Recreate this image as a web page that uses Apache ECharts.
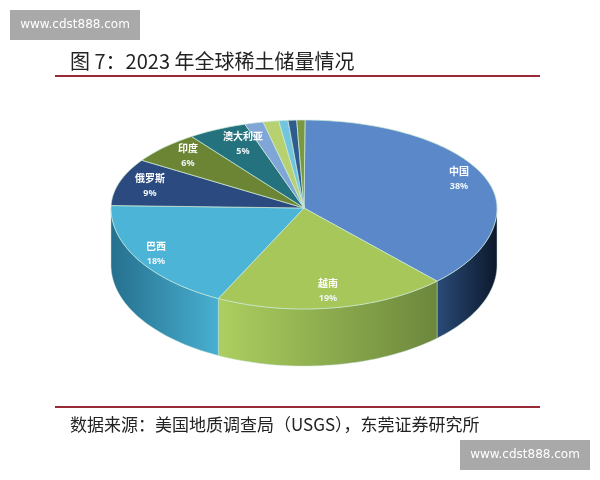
<!DOCTYPE html>
<html><head><meta charset="utf-8">
<style>html,body{margin:0;padding:0;background:#fff}#c{width:600px;height:480px}</style>
<script src="https://cdn.jsdelivr.net/npm/echarts@6/dist/echarts.min.js"></script>
</head><body><div id="c"></div>
<script>
const countries = ['中国','越南','巴西','俄罗斯','印度','澳大利亚','','','','',''];
const reserves  = [4360,2240,2090,1000,690,570,180,150,89,83,79];
const percentLabels = ['38%','19%','18%','9%','6%','5%','','','','',''];
const titleText = '图 7：2023 年全球稀土储量情况';
const sourceText = '数据来源：美国地质调查局（USGS），东莞证券研究所';
const watermark = 'www.cdst888.com';

const topColors = ['#5a88c8','#a7c75a','#4cb4d6','#2b4a80','#6c8534','#25727f','#7fa6d6','#b7d171','#73c4de','#2f5c8e','#7b9740'];
const sideStops = [['#2a4b78','#0c182b'],['#adcf60','#6c873c'],['#256f8e','#49b0d1']];
const labelAnchors = [[459,171],[328,283],[156,246],[150,178],[188,148],[243,136]];
const CX=304, CY=208, RX=193, RUP=88, RDOWN=101, DEPTH=57, START=0.3;
const total = reserves.reduce((a,b)=>a+b,0);
const starts = []; reserves.reduce((s,v,i)=>{starts[i]=s;return s+v/total*360;},START);

function pt(deg,dy){
  const r=deg*Math.PI/180, c=Math.cos(r);
  return [CX+RX*Math.sin(r), CY+(c>0?-RUP*c:-RDOWN*c)+(dy||0)];
}
function arc(a,b,dy){const p=[];const n=Math.max(2,Math.ceil((b-a)/1.5));
  for(let i=0;i<=n;i++)p.push(pt(a+(b-a)*i/n,dy));return p;}

function renderItem(params,api){
  const i=params.dataIndex, a=starts[i], b=a+api.value(0)/total*360;
  const kids=[];
  const sa=Math.max(a,90), sb=Math.min(b,270);
  if(sb>sa){
    const s=sideStops[i]||sideStops[0];
    kids.push({type:'polygon',shape:{points:arc(sa,sb,0).concat(arc(sa,sb,DEPTH).reverse())},
      style:{fill:{type:'linear',x:0,y:0,x2:1,y2:0,colorStops:[{offset:0,color:s[0]},{offset:1,color:s[1]}]},
      stroke:'rgba(190,225,215,0.45)',lineWidth:1}});
  }
  kids.push({type:'polygon',shape:{points:[[CX,CY]].concat(arc(a,b,0))},
    style:{fill:topColors[i],stroke:'rgba(205,235,215,0.7)',lineWidth:1,lineJoin:'round'}});
  const l=labelAnchors[i];
  if(l){
    kids.push({type:'text',z2:10,style:{x:l[0],y:l[1],text:countries[i],fill:'#fff',align:'center',verticalAlign:'middle',
      font:'bold 10px "Noto Sans CJK SC"'}});
    kids.push({type:'text',z2:10,style:{x:l[0],y:l[1]+15,text:percentLabels[i],fill:'#eef4fa',align:'center',verticalAlign:'middle',
      font:'bold 9px "Noto Sans"'}});
  }
  return {type:'group',children:kids};
}

const wm=(x,y)=>[{type:'rect',shape:{x,y,width:130,height:30},style:{fill:'#a9a9a9'},z:20},
  {type:'text',style:{x:x+65,y:y+15,text:watermark,fill:'#fff',align:'center',verticalAlign:'middle',font:'12px "DejaVu Sans"'},z:21}];

const chart=echarts.init(document.getElementById('c'),null,{renderer:'canvas'});
chart.setOption({
  animation:false,backgroundColor:'#fff',
  series:[{type:'custom',coordinateSystem:'none',renderItem,
    data:reserves.map((v,i)=>({name:countries[i],value:[v]}))}],
  graphic:[
    ...wm(10,10),...wm(460,440),
    {type:'text',style:{x:70,y:61,text:titleText,fill:'#222',align:'left',verticalAlign:'middle',font:'20px "Noto Sans CJK SC"'}},
    {type:'rect',shape:{x:55,y:75,width:485,height:2},style:{fill:'#982a36'}},
    {type:'rect',shape:{x:55,y:406,width:485,height:2},style:{fill:'#982a36'}},
    {type:'text',style:{x:70,y:425,text:sourceText,fill:'#222',align:'left',verticalAlign:'middle',font:'17px "Noto Sans CJK SC"'}}
  ]
});
</script></body></html>
